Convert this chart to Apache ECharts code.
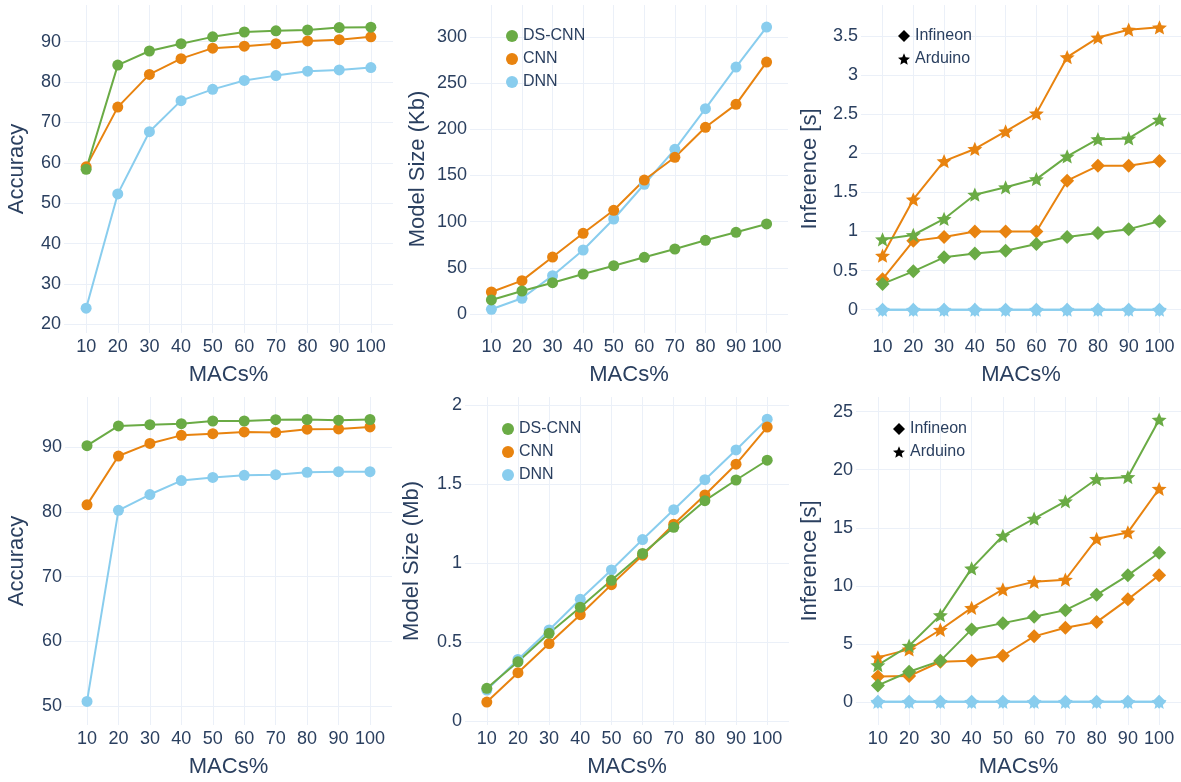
<!DOCTYPE html>
<html>
<head>
<meta charset="utf-8">
<script src="https://cdn.jsdelivr.net/npm/echarts@6/dist/echarts.min.js"></script>
<style>
  html, body { margin: 0; padding: 0; background: #fff; }
  #chart { width: 1181px; height: 782px; }
</style>
</head>
<body>
<div id="chart"></div>
<script>
// x values shared by every panel
var macs = [10, 20, 30, 40, 50, 60, 70, 80, 90, 100];

// top row
var accTopDsCnn = [58.4, 84.2, 87.7, 89.5, 91.2, 92.4, 92.7, 92.9, 93.5, 93.6];
var accTopCnn   = [59.0, 73.8, 81.9, 85.8, 88.4, 88.9, 89.5, 90.2, 90.5, 91.2];
var accTopDnn   = [24.0, 52.3, 67.7, 75.4, 78.2, 80.4, 81.6, 82.7, 83.0, 83.6];

var sizeKbDsCnn = [15.2, 24.9, 33.9, 43.3, 52.3, 61.4, 70.4, 79.8, 88.5, 97.5];
var sizeKbCnn   = [23.8, 36.1, 61.7, 87.4, 112.3, 145.1, 169.7, 202.2, 227.1, 272.9];
var sizeKbDnn   = [5.1, 17.0, 41.5, 69.3, 102.9, 140.5, 178.4, 222.4, 267.5, 310.8];

var infTopDsCnnInfineon = [0.33, 0.49, 0.67, 0.72, 0.755, 0.84, 0.93, 0.98, 1.03, 1.13];
var infTopCnnInfineon   = [0.39, 0.88, 0.93, 1.0, 1.0, 1.0, 1.65, 1.84, 1.84, 1.90];
var infTopDnnInfineon   = [0, 0, 0, 0, 0, 0, 0, 0, 0, 0];
var infTopDsCnnArduino  = [0.90, 0.955, 1.16, 1.47, 1.565, 1.67, 1.96, 2.18, 2.19, 2.43];
var infTopCnnArduino    = [0.69, 1.41, 1.90, 2.055, 2.28, 2.51, 3.23, 3.48, 3.58, 3.61];
var infTopDnnArduino    = [0, 0, 0, 0, 0, 0, 0, 0, 0, 0];

// bottom row
var accBotDsCnn = [90.25, 93.3, 93.5, 93.65, 94.07, 94.07, 94.27, 94.3, 94.2, 94.3];
var accBotCnn   = [81.1, 88.65, 90.6, 91.85, 92.1, 92.37, 92.3, 92.8, 92.85, 93.15];
var accBotDnn   = [50.7, 80.25, 82.7, 84.85, 85.35, 85.67, 85.77, 86.13, 86.23, 86.23];

var sizeMbDsCnn = [0.207, 0.375, 0.555, 0.72, 0.89, 1.06, 1.226, 1.394, 1.525, 1.65];
var sizeMbCnn   = [0.12, 0.306, 0.49, 0.673, 0.863, 1.049, 1.245, 1.43, 1.625, 1.86];
var sizeMbDnn   = [0.196, 0.39, 0.576, 0.77, 0.956, 1.148, 1.337, 1.527, 1.715, 1.91];

var infBotDsCnnInfineon = [1.41, 2.59, 3.53, 6.24, 6.78, 7.33, 7.9, 9.22, 10.9, 12.85];
var infBotCnnInfineon   = [2.19, 2.22, 3.45, 3.53, 3.97, 5.64, 6.38, 6.87, 8.83, 10.9];
var infBotDnnInfineon   = [0, 0, 0, 0, 0, 0, 0, 0, 0, 0];
var infBotDsCnnArduino  = [3.16, 4.83, 7.47, 11.5, 14.31, 15.78, 17.28, 19.2, 19.37, 24.31];
var infBotCnnArduino    = [3.83, 4.52, 6.21, 8.1, 9.69, 10.34, 10.52, 14.05, 14.6, 18.36];
var infBotDnnArduino    = [0, 0, 0, 0, 0, 0, 0, 0, 0, 0];

var GREEN = '#6aab45';
var ORANGE = '#e8830f';
var BLUE = '#89cdee';
var TEXT = '#2a3f5f';
var GRID = '#ebf0f8';
var FONT = '"Liberation Sans", Arial, sans-serif';
var STAR = 'path://M0,-10L2.645,-3.64L9.51,-3.09L4.28,1.39L5.88,8.09L0,4.5L-5.88,8.09L-4.28,1.39L-9.51,-3.09L-2.645,-3.64Z';

// panel layout: grid box, y range/step, titles
var panels = [
  { left: 64,  width: 329, top: 5,   ymin: 17.85, ymax: 99.09, step: 10,  yname: 'Accuracy',        gap: 36 },
  { left: 470, width: 318, top: 5,   ymin: -20.6, ymax: 334.7, step: 50,  yname: 'Model Size (Kb)', gap: 41 },
  { left: 861, width: 322, top: 5,   ymin: -0.298, ymax: 3.896, step: 0.5, yname: 'Inference [s]',  gap: 40 },
  { left: 65,  width: 327, top: 397, ymin: 47.06, ymax: 97.78, step: 10,  yname: 'Accuracy',        gap: 37 },
  { left: 465, width: 324, top: 397, ymin: -0.025, ymax: 2.05, step: 0.5, yname: 'Model Size (Mb)', gap: 42 },
  { left: 856, width: 328, top: 397, ymin: -2.0, ymax: 26.27, step: 5,   yname: 'Inference [s]',   gap: 35 }
];

function pairs(vals) {
  return macs.map(function (m, i) { return [m, vals[i]]; });
}

function line(name, vals, color, idx, symbol, size) {
  return {
    name: name,
    type: 'line',
    xAxisIndex: idx,
    yAxisIndex: idx,
    data: pairs(vals),
    symbol: symbol || 'circle',
    symbolSize: size || 11,
    symbolKeepAspect: true,
    showAllSymbol: true,
    lineStyle: { color: color, width: 2 },
    itemStyle: { color: color },
    emphasis: { disabled: true }
  };
}

var grids = [], xAxes = [], yAxes = [];
panels.forEach(function (p) {
  grids.push({ left: p.left, top: p.top, width: p.width, height: 328, containLabel: false });
  xAxes.push({
    type: 'value', gridIndex: grids.length - 1, min: 3, max: 107,
    minInterval: 10, maxInterval: 10,
    name: 'MACs%', nameLocation: 'middle', nameGap: 31,
    nameTextStyle: { color: TEXT, fontSize: 22, fontFamily: FONT },
    axisLine: { show: false }, axisTick: { show: false },
    axisLabel: {
      color: TEXT, fontSize: 18, fontFamily: FONT, margin: 5,
      showMinLabel: false, showMaxLabel: false,
      formatter: function (v) { return v % 10 === 0 ? String(v) : ''; }
    },
    splitLine: { show: true, showMinLine: false, showMaxLine: false, lineStyle: { color: GRID, width: 1 } }
  });
  yAxes.push({
    type: 'value', gridIndex: grids.length - 1, min: p.ymin, max: p.ymax,
    minInterval: p.step, maxInterval: p.step,
    name: p.yname, nameLocation: 'middle', nameGap: p.gap,
    nameTextStyle: { color: TEXT, fontSize: 22, fontFamily: FONT },
    axisLine: { show: false }, axisTick: { show: false },
    axisLabel: {
      color: TEXT, fontSize: 18, fontFamily: FONT, margin: 3,
      showMinLabel: false, showMaxLabel: false
    },
    splitLine: { show: true, showMinLine: false, showMaxLine: false, lineStyle: { color: GRID, width: 1 } }
  });
});

var series = [
  line('DNN', accTopDnn, BLUE, 0),
  line('CNN', accTopCnn, ORANGE, 0),
  line('DS-CNN', accTopDsCnn, GREEN, 0),

  line('DNN', sizeKbDnn, BLUE, 1),
  line('CNN', sizeKbCnn, ORANGE, 1),
  line('DS-CNN', sizeKbDsCnn, GREEN, 1),

  line('DNN', infTopDnnInfineon, BLUE, 2, 'diamond', 14),
  line('DNN', infTopDnnArduino, BLUE, 2, STAR, 15),
  line('CNN', infTopCnnInfineon, ORANGE, 2, 'diamond', 14),
  line('CNN', infTopCnnArduino, ORANGE, 2, STAR, 15),
  line('DS-CNN', infTopDsCnnInfineon, GREEN, 2, 'diamond', 14),
  line('DS-CNN', infTopDsCnnArduino, GREEN, 2, STAR, 15),

  line('DNN', accBotDnn, BLUE, 3),
  line('CNN', accBotCnn, ORANGE, 3),
  line('DS-CNN', accBotDsCnn, GREEN, 3),

  line('DNN', sizeMbDnn, BLUE, 4),
  line('CNN', sizeMbCnn, ORANGE, 4),
  line('DS-CNN', sizeMbDsCnn, GREEN, 4),

  line('DNN', infBotDnnInfineon, BLUE, 5, 'diamond', 14),
  line('DNN', infBotDnnArduino, BLUE, 5, STAR, 15),
  line('CNN', infBotCnnInfineon, ORANGE, 5, 'diamond', 14),
  line('CNN', infBotCnnArduino, ORANGE, 5, STAR, 15),
  line('DS-CNN', infBotDsCnnInfineon, GREEN, 5, 'diamond', 14),
  line('DS-CNN', infBotDsCnnArduino, GREEN, 5, STAR, 15),

  // legend-only entries for the device markers
  { name: 'Infineon', type: 'line', xAxisIndex: 2, yAxisIndex: 2, data: [], itemStyle: { color: '#000' } },
  { name: 'Arduino', type: 'line', xAxisIndex: 2, yAxisIndex: 2, data: [], itemStyle: { color: '#000' } }
];

function legend(left, top, items) {
  return {
    orient: 'vertical', left: left, top: top,
    itemWidth: 12, itemHeight: 12, itemGap: 7,
    selectedMode: false,
    textStyle: { color: TEXT, fontSize: 16, fontFamily: FONT, lineHeight: 16 },
    data: items
  };
}

var modelItems = [
  { name: 'DS-CNN', icon: 'circle' },
  { name: 'CNN', icon: 'circle' },
  { name: 'DNN', icon: 'circle' }
];
var deviceItems = [
  { name: 'Infineon', icon: 'diamond' },
  { name: 'Arduino', icon: STAR }
];

var chart = echarts.init(document.getElementById('chart'));
chart.setOption({
  animation: false,
  backgroundColor: '#fff',
  grid: grids,
  xAxis: xAxes,
  yAxis: yAxes,
  legend: [
    legend(501, 23, modelItems),
    legend(893, 23, deviceItems),
    legend(497, 416, modelItems),
    legend(888, 416, deviceItems)
  ],
  series: series
});
</script>
</body>
</html>
